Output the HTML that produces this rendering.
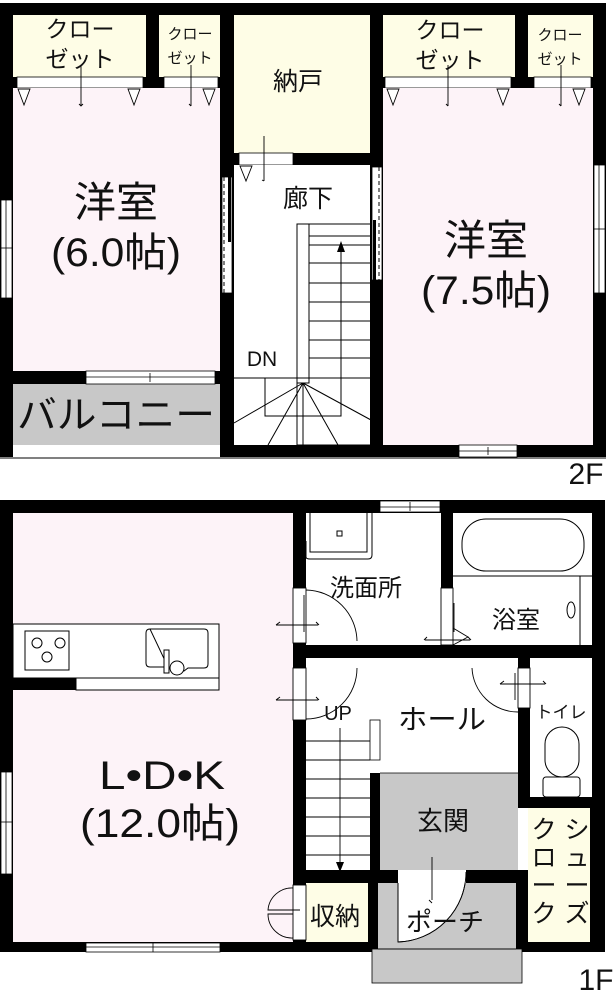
<!DOCTYPE html>
<html><head><meta charset="utf-8"><style>
html,body{margin:0;padding:0;background:#fff;}
svg{display:block;}
text{font-family:"Liberation Sans","Noto Sans CJK JP",sans-serif;fill:#111;}
</style></head><body>
<svg width="616" height="1000" viewBox="0 0 616 1000" xmlns="http://www.w3.org/2000/svg">
<!-- ============ 2F ============ -->
<rect x="0" y="3" width="606" height="454" fill="#000"/>
<rect x="13" y="15" width="133" height="62" fill="#fefde6"/>
<rect x="159" y="15" width="61" height="62" fill="#fefde6"/>
<rect x="383" y="15" width="132" height="62" fill="#fefde6"/>
<rect x="528" y="15" width="65" height="62" fill="#fefde6"/>
<rect x="17" y="77" width="126" height="11" fill="#fff" stroke="#000" stroke-width="0.8"/>
<rect x="164" y="77" width="54" height="11" fill="#fff" stroke="#000" stroke-width="0.8"/>
<rect x="385" y="77" width="126" height="11" fill="#fff" stroke="#000" stroke-width="0.8"/>
<rect x="534" y="77" width="57" height="11" fill="#fff" stroke="#000" stroke-width="0.8"/>
<rect x="234" y="15" width="136" height="138" fill="#fefde6"/>
<rect x="239" y="153" width="54" height="12" fill="#fff" stroke="#000" stroke-width="0.8"/>
<rect x="13" y="88" width="207" height="283" fill="#fdf3f8"/>
<rect x="383" y="88" width="210" height="357" fill="#fdf3f8"/>
<rect x="234" y="165" width="136" height="280" fill="#fff"/>
<rect x="13" y="384" width="207" height="61" fill="#c8c8c8"/>
<rect x="13" y="445" width="207" height="12" fill="#fff"/>
<line x1="0" y1="458" x2="606" y2="458" stroke="#000" stroke-width="1"/>
<g fill="#fff" stroke="#000" stroke-width="0.9">
<path d="M18 89 L30 89 L24 105 Z"/><path d="M128 89 L140 89 L134 105 Z"/>
<path d="M203 89 L215 89 L209 105 Z"/>
<path d="M387 89 L399 89 L393 105 Z"/><path d="M497 89 L509 89 L503 105 Z"/>
<path d="M573 89 L585 89 L579 105 Z"/>
<path d="M240 166 L252 166 L246 181 Z"/>
</g>
<g stroke="#000" stroke-width="0.9" fill="none">
<path d="M81 65 V106 M191 65 V106 M448 65 V106 M561 65 V106 M264 136 V181"/>
<path d="M79 104 l2 2 l2 -2 M189 104 l2 2 M446 104 l2 2 M559 104 l2 2 M262 180 l2 1"/>
</g>
<g fill="#fff" stroke="#000" stroke-width="0.8">
<rect x="1" y="200" width="11" height="98"/>
<rect x="594" y="165" width="11" height="128"/>
<rect x="459" y="445" width="58" height="12"/>
<rect x="86" y="371" width="129" height="13"/>
<rect x="222" y="177" width="10" height="116"/>
<rect x="372" y="167" width="10" height="113"/>
</g>
<g stroke="#000" stroke-width="0.8">
<line x1="6" y1="200" x2="6" y2="298"/><line x1="1" y1="248" x2="12" y2="248"/>
<line x1="599" y1="165" x2="599" y2="293"/><line x1="594" y1="229" x2="605" y2="229"/>
<line x1="459" y1="451" x2="517" y2="451"/><line x1="488" y1="447" x2="488" y2="455"/>
<line x1="86" y1="377" x2="215" y2="377"/><line x1="150" y1="373" x2="150" y2="382"/>
</g>
<rect x="228" y="177" width="3" height="65" fill="#000"/>
<line x1="224" y1="177" x2="224" y2="293" stroke="#000" stroke-dasharray="4 3"/>
<rect x="373" y="220" width="3" height="60" fill="#000"/>
<line x1="379" y1="167" x2="379" y2="280" stroke="#000" stroke-dasharray="4 3"/>
<g stroke="#000" stroke-width="1" fill="none">
<rect x="297" y="224" width="74" height="221"/>
<rect x="297" y="224" width="12" height="159" fill="#fff"/>
<path d="M309 236 H371"/>
<path d="M309 245 H371 M309 263 H371 M309 283 H371 M309 302 H371 M309 321 H371 M309 340 H371 M309 358 H371 M309 378 H371"/>
<path d="M234 378 H297"/>
<rect x="265" y="378" width="76" height="38"/>
<path d="M303 383 L234 423 M303 383 L268 445 M303 383 L303 445 M303 383 L338 445 M303 383 L371 420"/>
<path d="M341 378 V245"/>
</g>
<path d="M341 241 L337 252 L345 252 Z" fill="#000"/>
<text x="80" y="37" font-size="23" text-anchor="middle">クロー</text>
<text x="80" y="67" font-size="23" text-anchor="middle">ゼット</text>
<text x="190" y="39" font-size="15" text-anchor="middle">クロー</text>
<text x="190" y="63" font-size="15" text-anchor="middle">ゼット</text>
<text x="450" y="38" font-size="23" text-anchor="middle">クロー</text>
<text x="450" y="68" font-size="23" text-anchor="middle">ゼット</text>
<text x="560" y="40" font-size="15" text-anchor="middle">クロー</text>
<text x="560" y="64" font-size="15" text-anchor="middle">ゼット</text>
<text x="298" y="90" font-size="25" text-anchor="middle">納戸</text>
<text x="308" y="207" font-size="25" text-anchor="middle">廊下</text>
<text x="116" y="217" font-size="42" text-anchor="middle">洋室</text>
<text x="116" y="266" font-size="40" text-anchor="middle" textLength="130" lengthAdjust="spacingAndGlyphs">(6.0帖)</text>
<text x="486" y="255" font-size="42" text-anchor="middle">洋室</text>
<text x="486" y="304" font-size="40" text-anchor="middle" textLength="130" lengthAdjust="spacingAndGlyphs">(7.5帖)</text>
<text x="262" y="366" font-size="21" text-anchor="middle">DN</text>
<text x="116" y="428" font-size="38" text-anchor="middle" textLength="198" lengthAdjust="spacingAndGlyphs">バルコニー</text>
<text x="586" y="484" font-size="30" text-anchor="middle">2F</text>

<!-- ============ 1F ============ -->
<rect x="0" y="500" width="605" height="452" fill="#000"/>
<rect x="13" y="513" width="280" height="429" fill="#fdf3f8"/>
<rect x="306" y="513" width="135" height="132" fill="#fff"/>
<rect x="453" y="513" width="139" height="132" fill="#fff"/>
<rect x="306" y="658" width="212" height="115" fill="#fff"/>
<rect x="530" y="658" width="62" height="139" fill="#fff"/>
<rect x="528" y="808" width="62" height="134" fill="#fefde6"/>
<rect x="518" y="808" width="10" height="62" fill="#fff"/>
<rect x="306" y="727" width="64" height="143" fill="#fff"/>
<rect x="306" y="690" width="74" height="37" fill="#fff"/>
<rect x="380" y="773" width="138" height="97" fill="#c8c8c8"/>
<rect x="380" y="758" width="138" height="15" fill="#fff"/>
<line x1="380" y1="773" x2="518" y2="773" stroke="#000" stroke-width="0.8"/>
<rect x="306" y="883" width="62" height="59" fill="#fefde6"/>
<rect x="378" y="883" width="138" height="66" fill="#c8c8c8"/>
<rect x="378" y="942" width="138" height="8" fill="#c8c8c8"/>
<rect x="372" y="949" width="150" height="34" fill="#c8c8c8" stroke="#000" stroke-width="0.8"/>
<line x1="378" y1="949" x2="516" y2="949" stroke="#000" stroke-width="0.8"/>
<rect x="370" y="720" width="10" height="40" fill="#fff" stroke="#000" stroke-width="0.8"/>
<g stroke="#000" stroke-width="0.9">
<path d="M306 741 H370 M306 760 H370 M306 779 H370 M306 798 H370 M306 817 H370 M306 836 H370 M306 855 H370"/>
<path d="M340 728 V866"/>
</g>
<path d="M340 872 L336 862 L344 862 Z" fill="#000"/>
<rect x="13" y="624" width="206" height="54" fill="#fff" stroke="#000" stroke-width="1"/>
<rect x="76" y="678" width="143" height="12" fill="#fff" stroke="#000" stroke-width="1"/>
<rect x="13" y="678" width="63" height="12" fill="#000"/>
<g stroke="#000" stroke-width="1" fill="none">
<rect x="25" y="631" width="44" height="39"/>
<circle cx="37" cy="643" r="5"/><circle cx="60" cy="643" r="5"/><circle cx="47" cy="657" r="5"/>
<path d="M150 629 H204 Q208 629 208 633 V664 Q208 668 204 668 H188 L184 671 L178 671 M168 667 H150 Q146 667 146 663 V633 Q146 629 150 629 Z"/>
</g>
<rect x="164" y="650" width="5" height="23" fill="#fff" stroke="#000"/>
<circle cx="177" cy="668" r="7" fill="#fff" stroke="#000"/>
<g stroke="#000" stroke-width="1" fill="none">
<path d="M306 541 V557 Q306 559 310 559 H368 Q372 559 372 555 V513"/>
<path d="M310 513 V552 H367 V513"/>
<rect x="337" y="531" width="5" height="5"/>
<rect x="462" y="519" width="122" height="52" rx="24"/>
<line x1="453" y1="576" x2="592" y2="576"/>
<line x1="580" y1="576" x2="580" y2="645"/>
<ellipse cx="571" cy="610" rx="4" ry="8"/>
</g>
<g stroke="#000" stroke-width="1" fill="#fff">
<rect x="543" y="777" width="37" height="20" rx="3"/>
<rect x="545" y="727" width="34" height="50" rx="17"/>
</g>
<g fill="#fff" stroke="#000" stroke-width="0.9">
<rect x="293" y="588" width="13" height="55"/>
<rect x="293" y="668" width="13" height="52"/>
<rect x="441" y="588" width="12" height="57"/>
<rect x="518" y="668" width="12" height="40"/>
<rect x="293" y="885" width="13" height="55"/>
</g>
<g fill="none" stroke="#000" stroke-width="0.9">
<path d="M306 590 A52 52 0 0 1 357 641"/>
<path d="M357 668 A51 51 0 0 1 306 719"/>
<path d="M472 668 A46 46 0 0 0 518 712"/>
<path d="M453 628 L468 637 L453 645"/>
<path d="M276 625 H318 M276 700 H318 M425 640 H470 M500 684 H545 M300 910 H282"/>
<path d="M316 622 l3 3 M276 625 l4 -3 M316 697 l3 3 M276 700 l4 -3 M427 637 l-3 3 M468 637 l3 3 M500 684 l4 -3 M543 681 l3 3"/>
<path d="M304 595 V632 M454 603 V632 M515 673 V700"/>
<path d="M293 888 A24 24 0 0 0 268 910 H293 M293 938 A24 24 0 0 1 268 914 H293"/>
</g>
<path d="M398 872 H466 A70 70 0 0 1 398 942 Z" fill="#fff" stroke="#000" stroke-width="0.9"/>
<rect x="398" y="870" width="68" height="13" fill="#fff"/>
<path d="M398 883 V942 M466 872 A70 70 0 0 1 398 942" fill="none" stroke="#000" stroke-width="0.9"/>
<path d="M432 857 V900 M429 900 l3 3" fill="none" stroke="#000" stroke-width="0.9"/>
<g fill="#fff" stroke="#000" stroke-width="0.8">
<rect x="380" y="501" width="60" height="11"/>
<rect x="1" y="772" width="11" height="102"/>
<rect x="86" y="943" width="134" height="9"/>
</g>
<g stroke="#000" stroke-width="0.8">
<line x1="380" y1="507" x2="440" y2="507"/><line x1="410" y1="502" x2="410" y2="511"/>
<line x1="6" y1="772" x2="6" y2="874"/><line x1="1" y1="822" x2="12" y2="822"/>
<line x1="86" y1="947" x2="220" y2="947"/><line x1="153" y1="943" x2="153" y2="952"/>
</g>
<text x="162" y="789" font-size="40" text-anchor="middle" textLength="126" lengthAdjust="spacingAndGlyphs">L•D•K</text>
<text x="160" y="837" font-size="40" text-anchor="middle" textLength="160" lengthAdjust="spacingAndGlyphs">(12.0帖)</text>
<text x="366" y="596" font-size="24" text-anchor="middle">洗面所</text>
<text x="516" y="628" font-size="24" text-anchor="middle">浴室</text>
<text x="338" y="720" font-size="20" text-anchor="middle">UP</text>
<text x="442" y="729" font-size="28" text-anchor="middle" textLength="88" lengthAdjust="spacingAndGlyphs">ホール</text>
<text x="561" y="718" font-size="17" text-anchor="middle">トイレ</text>
<text x="443" y="830" font-size="26" text-anchor="middle">玄関</text>
<text x="335" y="925" font-size="25" text-anchor="middle">収納</text>
<text x="445" y="931" font-size="26" text-anchor="middle">ポーチ</text>
<g font-size="25" text-anchor="middle">
<text x="577" y="838">シ</text><text x="577" y="866">ュ</text><text x="577" y="894">ー</text><text x="577" y="922">ズ</text>
<text x="544" y="838">ク</text><text x="544" y="866">ロ</text><text x="544" y="894">ー</text><text x="544" y="922">ク</text>
</g>
<text x="596" y="990" font-size="30" text-anchor="middle">1F</text>
</svg>
</body></html>
